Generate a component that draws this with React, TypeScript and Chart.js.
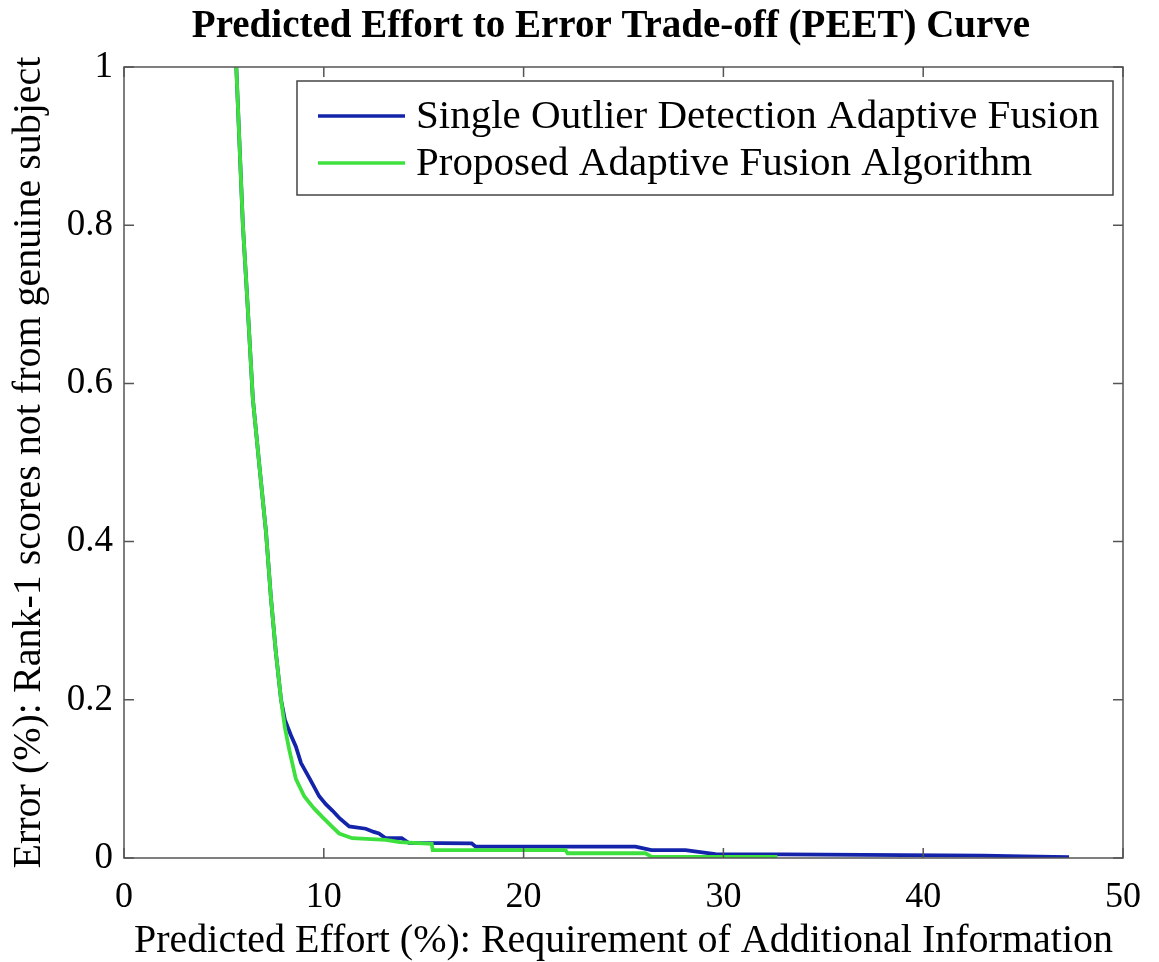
import React, { useEffect, useRef } from "react";
import { Chart, registerables } from "chart.js";

Chart.register(...registerables);

const chartTitle = "Predicted Effort to Error Trade-off (PEET) Curve";
const xAxisTitle = "Predicted Effort (%): Requirement of Additional Information";
const yAxisTitle = "Error (%): Rank-1 scores not from genuine subject";
const seriesNames = [
  "Single Outlier Detection Adaptive Fusion",
  "Proposed Adaptive Fusion Algorithm",
];
const xTicks = [0, 10, 20, 30, 40, 50];
const yTicks = [0, 0.2, 0.4, 0.6, 0.8, 1];

const blueX = [5.62, 5.95, 6.17, 6.45, 6.78, 7.11, 7.35, 7.6, 7.86, 8.05, 8.2, 8.36, 8.6, 8.86, 9.3, 9.77, 10.1, 10.43, 10.8, 11.27, 12.1, 12.5, 12.76, 13.1, 13.9, 14.26, 17.4, 17.6, 25.6, 26.4, 28.1, 29.6, 33, 37, 43, 45, 47.3];
const blueY = [1.0, 0.8, 0.706, 0.58, 0.495, 0.411, 0.33, 0.26, 0.2, 0.175, 0.165, 0.155, 0.141, 0.12, 0.1, 0.078, 0.068, 0.06, 0.05, 0.04, 0.037, 0.033, 0.031, 0.025, 0.025, 0.019, 0.0185, 0.0143, 0.0143, 0.01, 0.01, 0.005, 0.0045, 0.004, 0.003, 0.002, 0.001];

const greenX = [5.62, 5.95, 6.17, 6.45, 6.78, 7.11, 7.35, 7.6, 7.86, 8.05, 8.27, 8.6, 9.02, 9.5, 9.92, 10.4, 10.77, 11.42, 13.1, 13.8, 15.4, 15.45, 22.1, 22.2, 26.1, 26.4, 32.7];
const greenY = [1.0, 0.8, 0.706, 0.58, 0.495, 0.411, 0.33, 0.26, 0.2, 0.165, 0.137, 0.1, 0.078, 0.063, 0.052, 0.04, 0.031, 0.025, 0.0228, 0.02, 0.018, 0.01, 0.01, 0.006, 0.006, 0.0015, 0.0015];

const FONT = "'Liberation Serif', 'Times New Roman', serif";

const framePlugin = {
  id: "matlabFrame",
  afterDraw(chart: any) {
    const { ctx, chartArea } = chart;
    const { left, right, top, bottom } = chartArea;
    const xs = chart.scales.x;
    const ys = chart.scales.y;
    ctx.save();
    ctx.strokeStyle = "#555555";
    ctx.lineWidth = 1.5;
    ctx.strokeRect(left, top, right - left, bottom - top);
    const tl = 10;
    ctx.beginPath();
    xTicks.forEach((v) => {
      const px = xs.getPixelForValue(v);
      ctx.moveTo(px, bottom);
      ctx.lineTo(px, bottom - tl);
      ctx.moveTo(px, top);
      ctx.lineTo(px, top + tl);
    });
    yTicks.forEach((v) => {
      const py = ys.getPixelForValue(v);
      ctx.moveTo(left, py);
      ctx.lineTo(left + tl, py);
      ctx.moveTo(right, py);
      ctx.lineTo(right - tl, py);
    });
    ctx.stroke();

    // title
    ctx.fillStyle = "#000";
    ctx.font = `bold 39px ${FONT}`;
    ctx.textAlign = "center";
    ctx.textBaseline = "middle";
    ctx.fillText(chartTitle, 611, 27);

    // legend
    const bx = 297, by = 81, bw = 816, bh = 114;
    ctx.fillStyle = "#fff";
    ctx.fillRect(bx, by, bw, bh);
    ctx.strokeStyle = "#444";
    ctx.lineWidth = 1.5;
    ctx.strokeRect(bx, by, bw, bh);
    const rows = [116, 163];
    chart.data.datasets.forEach((ds: any, i: number) => {
      const y = rows[i];
      ctx.strokeStyle = ds.borderColor;
      ctx.lineWidth = 3.5;
      ctx.beginPath();
      ctx.moveTo(318, y);
      ctx.lineTo(405, y);
      ctx.stroke();
      ctx.fillStyle = "#000";
      ctx.font = `41px ${FONT}`;
      ctx.textAlign = "left";
      ctx.textBaseline = "middle";
      ctx.fillText(ds.label, 416, y + 1);
    });
    ctx.restore();
  },
};

export default function App() {
  const ref = useRef<HTMLCanvasElement | null>(null);
  useEffect(() => {
    if (!ref.current) return;
    const chart = new Chart(ref.current, {
      type: "line",
      data: {
        datasets: [
          {
            label: seriesNames[0],
            data: blueX.map((x, i) => ({ x, y: blueY[i] })),
            borderColor: "#1424aa",
            borderWidth: 3.8,
            pointRadius: 0,
            tension: 0,
            order: 1,
          },
          {
            label: seriesNames[1],
            data: greenX.map((x, i) => ({ x, y: greenY[i] })),
            borderColor: "#3ee03e",
            borderWidth: 3.8,
            pointRadius: 0,
            tension: 0,
            order: 0,
          },
        ],
      },
      options: {
        animation: false,
        responsive: false,
        events: [],
        layout: { padding: { top: 67, right: 32, bottom: 0, left: 0 } },
        plugins: {
          legend: { display: false },
          title: { display: false },
          tooltip: { enabled: false },
        },
        scales: {
          x: {
            type: "linear",
            min: 0,
            max: 50,
            afterBuildTicks: (s: any) => {
              s.ticks = xTicks.map((v) => ({ value: v }));
            },
            afterFit: (s: any) => {
              s.height = 104;
            },
            grid: { display: false, drawTicks: false },
            border: { display: false },
            ticks: {
              padding: 18,
              color: "#000",
              font: { family: FONT, size: 36 },
              maxRotation: 0,
            },
            title: {
              display: true,
              text: xAxisTitle,
              color: "#000",
              font: { family: FONT, size: 40 },
              padding: { top: 0, bottom: -3 },
            },
          },
          y: {
            type: "linear",
            min: 0,
            max: 1,
            afterBuildTicks: (s: any) => {
              s.ticks = yTicks.map((v) => ({ value: v }));
            },
            afterFit: (s: any) => {
              s.width = 124;
            },
            grid: { display: false, drawTicks: false },
            border: { display: false },
            ticks: {
              padding: 11,
              color: "#000",
              font: { family: FONT, size: 37 },
              callback: (v: any) => String(v),
            },
            title: {
              display: true,
              text: yAxisTitle,
              color: "#000",
              font: { family: FONT, size: 40 },
              padding: { top: 5, bottom: 0 },
            },
          },
        },
      },
      plugins: [framePlugin],
    });
    return () => chart.destroy();
  }, []);
  return (
    <div style={{ position: "absolute", left: 0, top: 0, width: 1159, height: 962, background: "#fff" }}>
      <canvas ref={ref} width={1159} height={962} style={{ display: "block" }} />
    </div>
  );
}
